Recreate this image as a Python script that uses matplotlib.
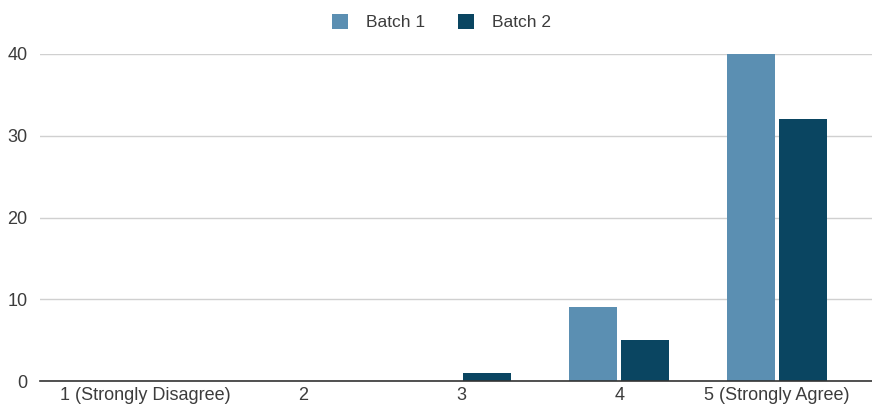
import matplotlib
matplotlib.use("Agg")
import matplotlib.pyplot as plt
import numpy as np

plt.rcParams['font.family'] = ['Liberation Sans', 'DejaVu Sans']

categories = ["1 (Strongly Disagree)", "2", "3", "4", "5 (Strongly Agree)"]
batch1 = [0, 0, 0, 9, 40]
batch2 = [0, 0, 1, 5, 32]
series_names = ["Batch 1", "Batch 2"]
y_ticks = [0, 10, 20, 30, 40]

color1 = "#5b8fb2"
color2 = "#0a4561"
text_color = "#3c3c3c"

fig = plt.figure(figsize=(8.72, 4.05), dpi=100)
ax = fig.add_axes([40 / 872, 24 / 405, 832 / 872, 327 / 405])

x = np.arange(len(categories))
w = 0.304
off = 0.165
ax.bar(x - off, batch1, width=w, color=color1, label=series_names[0], zorder=3)
ax.bar(x + off, batch2, width=w, color=color2, label=series_names[1], zorder=3)

ax.set_xlim(-0.665, 4.6)
ax.set_ylim(0, 40)
ax.set_yticks(y_ticks)
ax.set_xticks(x)
ax.set_xticklabels(categories)
ax.yaxis.grid(True, color="#d0d0d0", linewidth=1, zorder=0)
ax.tick_params(axis='both', length=0, labelsize=13, colors=text_color)
ax.tick_params(axis='y', pad=9)
ax.tick_params(axis='x', pad=4)
for s in ["top", "right", "left"]:
    ax.spines[s].set_visible(False)
ax.spines["bottom"].set_color("#333333")
ax.spines["bottom"].set_linewidth(1.2)
ax.spines["bottom"].set_zorder(4)

leg = fig.legend(loc="upper center", bbox_to_anchor=(0.506, 1.005), ncol=2, frameon=False,
                 fontsize=12.5, handlelength=0.95, handleheight=0.95, columnspacing=1.9,
                 handletextpad=1.0, labelcolor=text_color)

fig.savefig("out.png", dpi=100)
